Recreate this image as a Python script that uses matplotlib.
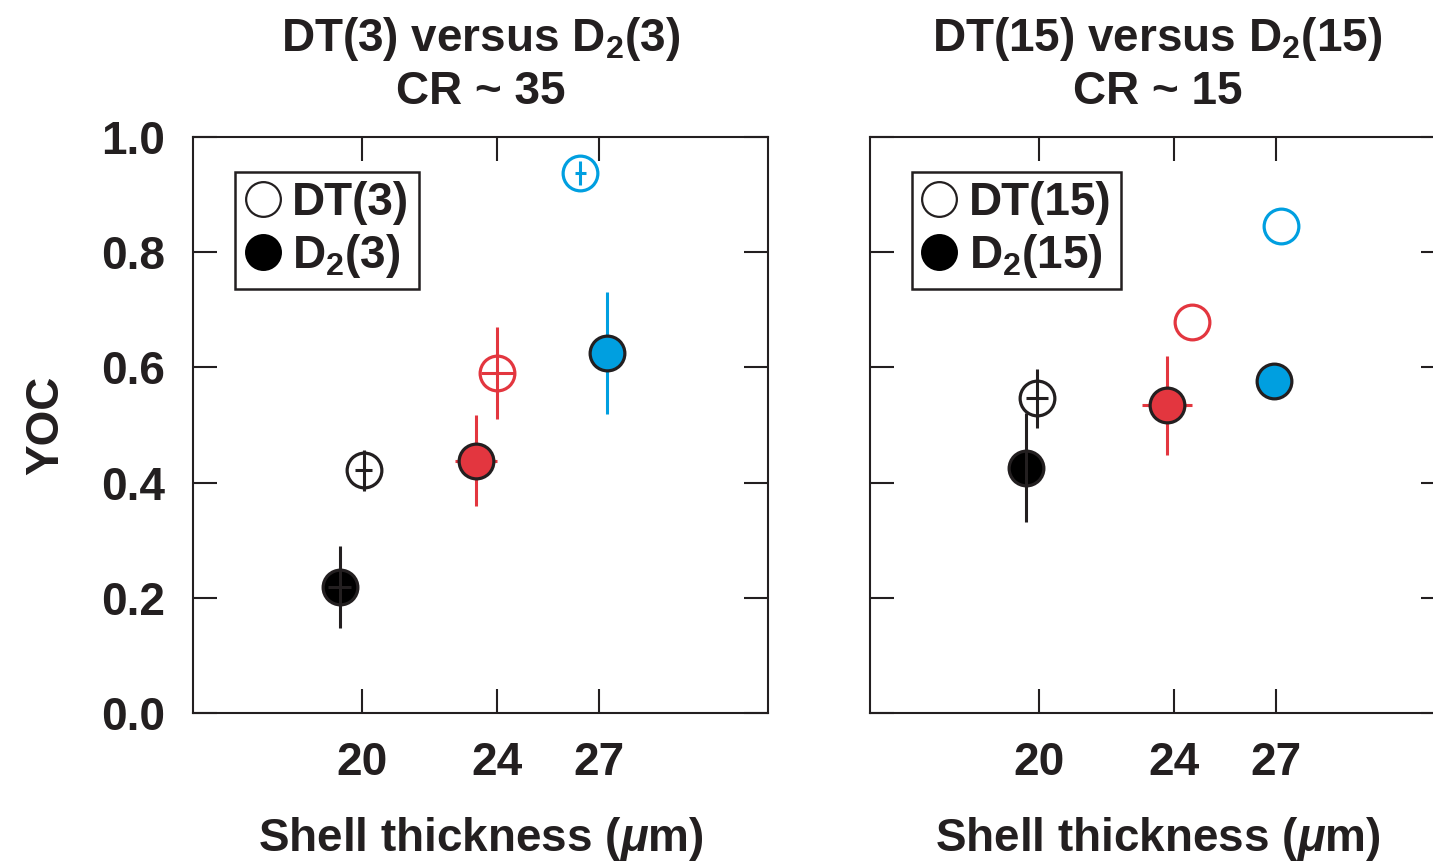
import matplotlib
matplotlib.use("Agg")
import matplotlib.pyplot as plt
from matplotlib.lines import Line2D

plt.rcParams['font.family'] = ['Liberation Sans', 'DejaVu Sans']
plt.rcParams['font.weight'] = 'bold'
plt.rcParams['axes.labelweight'] = 'bold'
plt.rcParams['axes.titleweight'] = 'bold'
plt.rcParams['mathtext.fontset'] = 'custom'
plt.rcParams['mathtext.rm'] = 'Liberation Sans:bold'
plt.rcParams['mathtext.bf'] = 'Liberation Sans:bold'
plt.rcParams['mathtext.it'] = 'Liberation Sans:italic'

DARK = '#231f20'
RED = '#e3363f'
BLUE = '#009fe0'
series_colors = [DARK, RED, BLUE]

# CR ~ 35 shots
thickness_dt3 = [20.05, 24.0, 26.45]
yoc_dt3 = [0.421, 0.590, 0.937]
yerr_dt3 = [0.036, 0.080, 0.021]
xerr_dt3 = [0.25, 0.50, 0.16]

thickness_d2_3 = [19.34, 23.36, 27.23]
yoc_d2_3 = [0.219, 0.438, 0.625]
yerr_d2_3 = [0.071, 0.079, 0.106]
xerr_d2_3 = [0.34, 0.62, 0.0]

# CR ~ 15 shots
thickness_dt15 = [19.94, 24.53, 27.14]
yoc_dt15 = [0.546, 0.679, 0.845]
yerr_dt15 = [0.052, 0.0, 0.0]
xerr_dt15 = [0.32, 0.0, 0.0]

thickness_d2_15 = [19.60, 23.78, 26.95]
yoc_d2_15 = [0.426, 0.534, 0.577]
yerr_d2_15 = [0.094, 0.086, 0.0]
xerr_d2_15 = [0.0, 0.74, 0.0]

xticks = [20, 24, 27]
yticks = [0.0, 0.2, 0.4, 0.6, 0.8, 1.0]

FS = 33
MS = 25
MEW = 2.3
ELW = 2.2


def draw_points(ax, xs, ys, xe, ye, filled):
    for x, y, dx, dy, c in zip(xs, ys, xe, ye, series_colors):
        on_top = filled and c == DARK
        ax.errorbar(x, y, xerr=dx, yerr=dy, fmt='none', ecolor=c,
                    elinewidth=ELW, capsize=0, zorder=4 if on_top else 2)
        if filled:
            fc = 'black' if c == DARK else c
            ax.plot(x, y, 'o', ms=MS, mfc=fc, mec=DARK, mew=MEW, zorder=3)
        else:
            ax.plot(x, y, 'o', ms=MS, mfc='none', mec=c, mew=MEW, zorder=3)


def style_axes(ax, show_ylabels):
    ax.set_xlim(15, 32)
    ax.set_ylim(0, 1.0)
    ax.set_xticks(xticks)
    ax.set_yticks(yticks)
    ax.set_yticklabels([f'{v:.1f}' for v in yticks])
    ax.tick_params(direction='in', length=17, width=1.5, top=True, right=True,
                   labelsize=FS, colors=DARK, pad=20, labelleft=show_ylabels)
    for s in ax.spines.values():
        s.set_linewidth(1.5)
        s.set_color(DARK)
    ax.set_xlabel(r'Shell thickness ($\mu$m)', fontsize=FS, color=DARK,
                  fontweight='bold', labelpad=22)


def add_legend(ax, lbl_dt, lbl_d2):
    handles = [
        Line2D([], [], ls='none', marker='o', ms=MS, mfc='none', mec=DARK, mew=1.6),
        Line2D([], [], ls='none', marker='o', ms=MS, mfc='black', mec='black', mew=1.6),
    ]
    leg = ax.legend(handles, [lbl_dt, lbl_d2], loc='upper left',
                    bbox_to_anchor=(0.073, 0.94), borderaxespad=0,
                    fontsize=FS, frameon=True, fancybox=False, framealpha=1,
                    handlelength=0.8, handletextpad=0.25, borderpad=0.2,
                    labelspacing=0.15)
    leg.get_frame().set_edgecolor(DARK)
    leg.get_frame().set_linewidth(1.8)
    for t in leg.get_texts():
        t.set_color(DARK)


fig = plt.figure(figsize=(14.33, 8.64), dpi=100)
ax1 = fig.add_axes([0.1347, 0.1748, 0.4013, 0.6667])
ax2 = fig.add_axes([0.6071, 0.1748, 0.4013, 0.6667])

draw_points(ax1, thickness_dt3, yoc_dt3, xerr_dt3, yerr_dt3, False)
draw_points(ax1, thickness_d2_3, yoc_d2_3, xerr_d2_3, yerr_d2_3, True)
draw_points(ax2, thickness_dt15, yoc_dt15, xerr_dt15, yerr_dt15, False)
draw_points(ax2, thickness_d2_15, yoc_d2_15, xerr_d2_15, yerr_d2_15, True)

style_axes(ax1, True)
style_axes(ax2, False)
ax1.set_ylabel('YOC', fontsize=FS, color=DARK, fontweight='bold', labelpad=24)

ax1.set_title('DT(3) versus D$_2$(3)\nCR ~ 35', fontsize=FS, color=DARK,
              fontweight='bold', pad=24, linespacing=1.2)
ax2.set_title('DT(15) versus D$_2$(15)\nCR ~ 15', fontsize=FS, color=DARK,
              fontweight='bold', pad=24, linespacing=1.2)

add_legend(ax1, 'DT(3)', 'D$_2$(3)')
add_legend(ax2, 'DT(15)', 'D$_2$(15)')

fig.savefig('out.png', dpi=100)
